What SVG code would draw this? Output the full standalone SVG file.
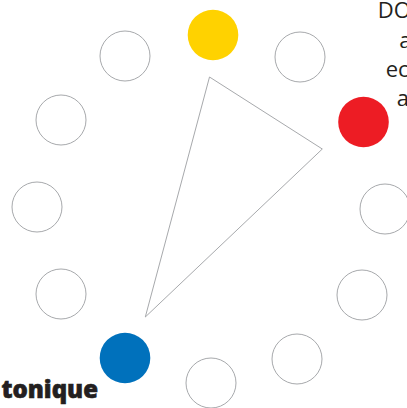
<svg xmlns="http://www.w3.org/2000/svg" width="407" height="408" viewBox="0 0 407 408">
<style>
.o{fill:#ffffff;stroke:#a7a9ac;stroke-width:1}
.t{font-family:"Open Sans","Noto Sans",sans-serif;font-size:22px;fill:#231f20}
.b{font-family:"Open Sans","Noto Sans",sans-serif;font-size:24px;font-weight:800;fill:#231f20;stroke:#231f20;stroke-width:0.6}
</style>
<rect width="407" height="408" fill="#ffffff"/>
<g id="connectors">
<polygon points="209.5,77 322.3,149 145.3,317" fill="none" stroke="#a7a9ac" stroke-width="1"/>
</g>
<g id="n0"><circle cx="213" cy="35" r="25.3" fill="#ffd200"/></g>
<g id="n1"><circle class="o" cx="300" cy="57" r="25"/></g>
<g id="n2"><circle cx="363.5" cy="122" r="25.3" fill="#ed1c24"/></g>
<g id="n3"><circle class="o" cx="385" cy="209" r="25"/></g>
<g id="n4"><circle class="o" cx="362" cy="295" r="25"/></g>
<g id="n5"><circle class="o" cx="297" cy="359" r="25"/></g>
<g id="n6"><circle class="o" cx="211" cy="383" r="25"/></g>
<g id="n7"><circle cx="125" cy="358" r="25.3" fill="#0071bc"/></g>
<g id="n8"><circle class="o" cx="61" cy="294" r="25"/></g>
<g id="n9"><circle class="o" cx="37" cy="207" r="25"/></g>
<g id="n10"><circle class="o" cx="61" cy="120" r="25"/></g>
<g id="n11"><circle class="o" cx="125" cy="56" r="25"/></g>
<g id="label">
<text class="t" x="377.7" y="18">DO</text>
<text class="t" x="399.3" y="48">a</text>
<text class="t" x="385.7" y="77">ec</text>
<text class="t" x="396.7" y="106">a</text>
</g>
<g id="tonique"><text class="b" x="98" y="398" text-anchor="end">tonique</text></g>
</svg>
